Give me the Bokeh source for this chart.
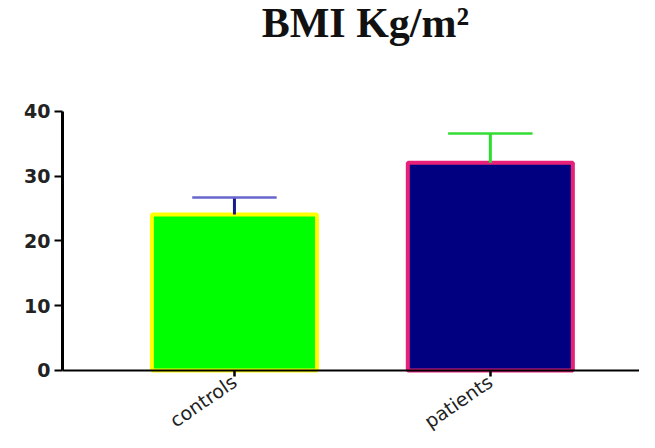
from bokeh.plotting import figure
from bokeh.models import Range1d, FixedTicker, ColumnDataSource, Label
from bokeh.embed import file_html
from bokeh.resources import INLINE

categories = ["controls", "patients"]
positions = [1, 2]
means = [24.1, 32.1]
sds = [2.6, 4.5]
fill_colors = ["#00FF00", "#000080"]
line_colors = ["#FFFF00", "#E8207A"]
err_colors = ["#1A1A8A", "#2EDB2E"]
cap_colors = ["#6666CC", "#33DD33"]
y_ticks = [0, 10, 20, 30, 40]
title_text = "BMI Kg/m²"

tops = [m + s for m, s in zip(means, sds)]
cap_half = 0.165
src = ColumnDataSource(dict(
    x=positions, top=means, upper=tops,
    fill=fill_colors, line=line_colors, err=err_colors, cap=cap_colors,
    cx0=[p - cap_half for p in positions], cx1=[p + cap_half for p in positions],
))

p = figure(width=639, height=432, output_backend="svg", toolbar_location=None,
           title_location=None,
           x_range=Range1d(0.328, 2.583), y_range=Range1d(-9.58, 57.14),
           min_border_left=62, min_border_right=0, min_border_top=0, min_border_bottom=0)
p.outline_line_color = None
p.xgrid.visible = False
p.ygrid.visible = False

p.vbar(x="x", top="top", bottom=0, width=0.645, source=src,
       fill_color="fill", line_color="line", line_width=4)
p.segment(x0="x", y0="top", x1="x", y1="upper", source=src, line_color="err", line_width=3)
p.segment(x0="cx0", y0="upper", x1="cx1", y1="upper", source=src, line_color="cap", line_width=2.5)

p.yaxis.ticker = FixedTicker(ticks=y_ticks)
p.yaxis.bounds = (0, 40)
p.yaxis.axis_line_width = 3
p.yaxis.major_tick_line_width = 2
p.yaxis.major_tick_out = 8
p.yaxis.major_tick_in = 0
p.yaxis.minor_tick_line_color = None
p.yaxis.major_label_text_font = "DejaVu Sans"
p.yaxis.major_label_text_font_style = "bold"
p.yaxis.major_label_text_font_size = "19px"
p.yaxis.major_label_text_color = "#222222"
p.yaxis.major_label_standoff = 4

p.xaxis.fixed_location = 0
p.xaxis.ticker = FixedTicker(ticks=positions)
p.xaxis.major_label_overrides = {pos: c for pos, c in zip(positions, categories)}
p.xaxis.axis_line_width = 2
p.xaxis.major_tick_line_width = 2.5
p.xaxis.major_tick_out = 6
p.xaxis.major_tick_in = 0
p.xaxis.minor_tick_line_color = None
p.xaxis.major_label_orientation = 0.6
p.xaxis.major_label_text_font = "DejaVu Sans"
p.xaxis.major_label_text_font_size = "19px"
p.xaxis.major_label_text_color = "#222222"
p.xaxis.major_label_standoff = 3

title = Label(x=sum(positions) / len(positions), y=53.6, x_offset=3,
              text=title_text, text_font="Liberation Serif", text_font_style="bold",
              text_font_size="42px", text_align="center", text_baseline="alphabetic",
              text_color="#111111")
p.add_layout(title)

open("out.html", "w").write(file_html(p, INLINE))
